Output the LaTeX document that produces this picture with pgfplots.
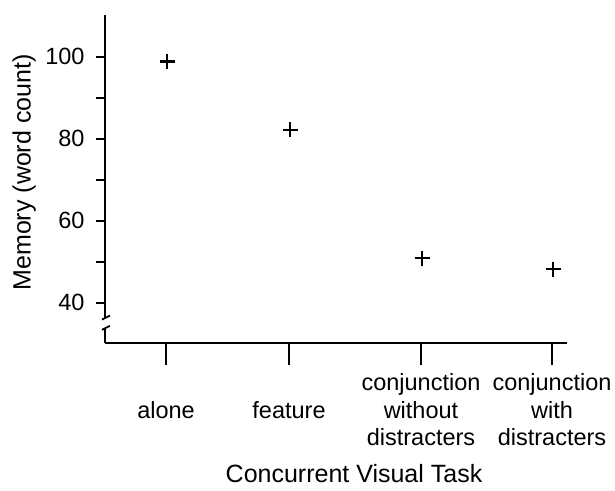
\documentclass[border=0pt]{standalone}
\usepackage{fontspec}
\setmainfont{Liberation Sans}
\usepackage{pgfplots}
\pgfplotsset{compat=1.18}
\begin{document}
\begin{tikzpicture}
\begin{axis}[
  scale only axis,
  width=462pt, height=328pt,
  xmin=105, xmax=567,
  ymin=30.2, ymax=110.2,
  clip=false,
  axis x line*=bottom,
  axis y line*=left,
  axis line style={-, line width=1.8pt, black},
  y axis line style={draw=none},
  xtick={166,289,421,552},
  xticklabels={alone, feature, {conjunction\\without\\distracters}, {conjunction\\with\\distracters}},
  ytick={40,60,80,100},
  minor ytick={50,70,90},
  tick align=outside,
  major tick length=9pt, minor tick length=9pt,
  xtick style={/pgfplots/major tick length=22pt},
  every tick/.style={black, line width=1.7pt},
  tick label style={font=\fontsize{23.5}{27.5}\selectfont},
  xticklabel style={align=center, anchor=center, yshift=-58pt},
  yticklabel style={xshift=-8pt},
  /pgf/number format/assume math mode=true,
  xlabel={Concurrent Visual Task},
  ylabel={Memory (word count)},
  label style={font=\fontsize{25}{29}\selectfont},
  xlabel style={at={(axis description cs:0.539,-0.398)}, anchor=center, inner sep=0pt},
  ylabel style={at={(axis description cs:-0.175,0.52)}, anchor=center},
]
\addplot[only marks, mark=+, mark size=7.5pt, line width=2.5pt, black]
  coordinates {(167,98.9) (290,82.2) (422,50.9) (553,48.2)};
\draw[line width=1.8pt] (axis cs:105,110.2) -- (axis cs:105,36.4);
\draw[line width=1.8pt] ([xshift=-3pt,yshift=-2pt]axis cs:105,36.4) -- ([xshift=5pt,yshift=2pt]axis cs:105,36.4);
\draw[line width=1.8pt] ([xshift=-3pt,yshift=-2pt]axis cs:105,33.9) -- ([xshift=5pt,yshift=2pt]axis cs:105,33.9);
\draw[line width=1.8pt] (axis cs:105,33.9) -- (axis cs:105,30.2);
\path (axis description cs:-0.2273,1.0457) rectangle (axis description cs:1.1039,-0.4512);
\end{axis}
\end{tikzpicture}
\end{document}
